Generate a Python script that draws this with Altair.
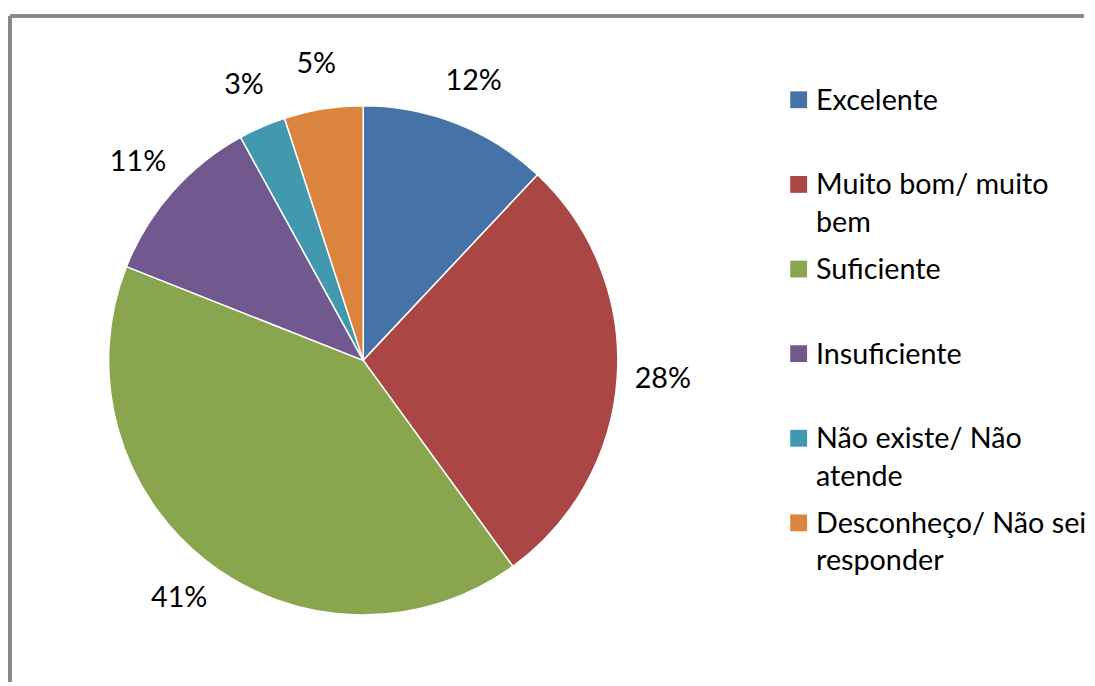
import textwrap
import altair as alt
import pandas as pd

categories = ["Excelente", "Muito bom/ muito bem", "Suficiente", "Insuficiente",
              "Não existe/ Não atende", "Desconheço/ Não sei responder"]
values = [12, 28, 41, 11, 3, 5]
labels = ["12%", "28%", "41%", "11%", "3%", "5%"]
colors = ["#4572A7", "#AA4643", "#89A54E", "#71588F", "#4198AF", "#DB843D"]

df = pd.DataFrame({
    "cat": categories,
    "value": values,
    "label": labels,
    "idx": list(range(len(categories))),
    "legend": ["\n".join(textwrap.wrap(c, 19)) for c in categories],
})

FONT = "Lato"
FS = 29
W, H = 1084, 664
CX, CY = 356.5, 347.5

color = alt.Color("cat:N", scale=alt.Scale(domain=categories, range=colors), legend=None)
theta = alt.Theta("value:Q", stack=True)
order = alt.Order("idx:Q")

base = alt.Chart(df)

pie = base.mark_arc(outerRadius=257, stroke="white", strokeWidth=1.5).encode(
    theta=theta, color=color, order=order, x=alt.value(CX), y=alt.value(CY)
)

pct = base.mark_text(radius=303, font=FONT, fontSize=FS, color="black").encode(
    theta=theta, order=order, text="label:N", x=alt.value(CX), y=alt.value(CY)
)

ly = alt.Y("cat:N", sort=categories,
           scale=alt.Scale(type="point", range=[84.5, 511.5], padding=0), axis=None)

sq = base.mark_square(size=289, opacity=1, filled=True).encode(
    x=alt.value(796), y=ly, color=color
)

ltxt = base.mark_text(align="left", baseline="alphabetic", dy=10, font=FONT, fontSize=FS,
                      lineBreak="\n", lineHeight=38, color="black").encode(
    x=alt.value(813.5), y=ly, text="legend:N"
)

frame_left = base.mark_rule(color="#898989", strokeWidth=3).encode(
    x=alt.value(0), y=alt.value(0), y2=alt.value(H + 8)
)
frame_top = base.mark_rule(color="#898989", strokeWidth=3).encode(
    y=alt.value(0), x=alt.value(0), x2=alt.value(W)
)

chart = alt.layer(pie, pct, sq, ltxt, frame_left, frame_top).properties(
    width=W, height=H,
    padding={"left": 0, "top": 3, "right": 0, "bottom": 0},
).configure_view(stroke=None)

chart.save("out.html", embed_options={"renderer": "svg", "actions": False})
